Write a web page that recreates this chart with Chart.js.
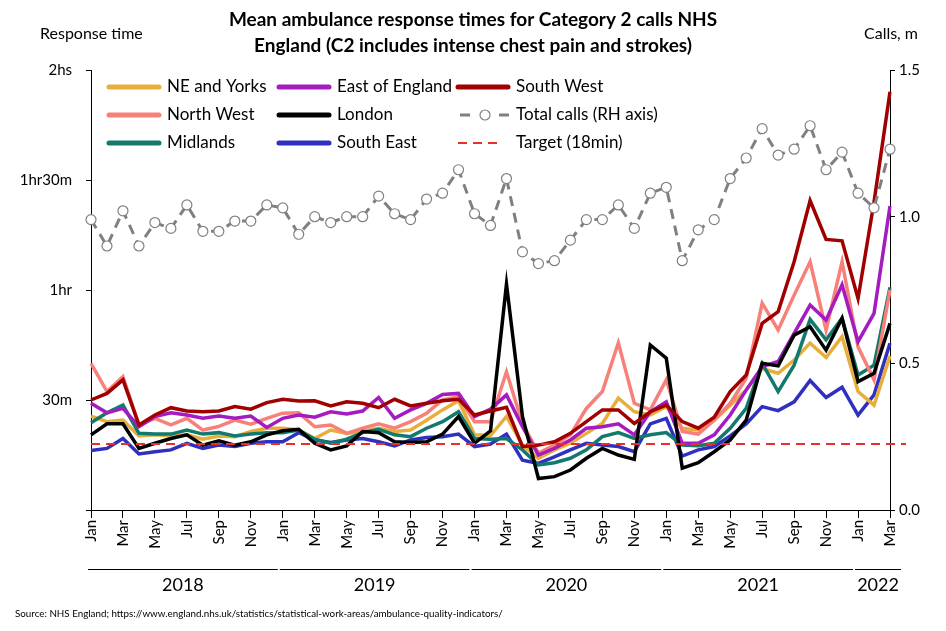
<!DOCTYPE html>
<html>
<head>
<meta charset="utf-8">
<script src="https://cdn.jsdelivr.net/npm/chart.js@4.4.1/dist/chart.umd.min.js"></script>
<style>
  html, body { margin: 0; padding: 0; background: #fff; }
</style>
</head>
<body>
<canvas id="chart" width="946" height="631"></canvas>
<script>
// month categories, Jan 2018 - Mar 2022
const monthNames = ['Jan','Feb','Mar','Apr','May','Jun','Jul','Aug','Sep','Oct','Nov','Dec'];
const years = ['2018','2019','2020','2021','2022'];
const monthsInYear = [12, 12, 12, 12, 3];

// mean C2 response time, minutes
const neYorks = [25.6,24.1,24.5,20.2,20.5,20.2,20.5,19.3,20.2,20.0,21.4,22.3,22.3,21.8,19.5,21.8,20.9,21.4,22.3,21.4,21.8,24.5,27.3,29.8,20.5,20.3,
  25.5,17.7,14.1,16.4,18.2,20.9,23.6,30.5,26.8,25.9,28.2,22.3,21.8,24.5,28.6,32.7,38.6,37.3,40.9,45.5,41.6,47.3,32.3,28.6,42.0];
const northWest = [40.0,32.3,36.4,23.2,25.0,23.2,25.0,21.8,22.8,24.5,23.4,25.0,26.4,26.5,22.7,23.2,20.9,22.3,23.5,22.3,24.1,26.4,30.0,30.9,24.1,24.1,
  37.7,23.6,15.5,17.7,20.5,27.7,32.3,45.6,29.1,27.3,35.5,21.4,20.7,24.5,29.1,35.9,56.4,49.1,58.6,67.7,49.1,67.7,44.5,35.5,60.0];
const midlands = [23.8,26.5,28.6,20.9,20.7,20.7,21.8,20.7,21.1,20.2,20.7,21.1,21.1,21.8,19.3,18.2,19.3,21.1,22.0,20.5,20.0,22.3,24.1,26.8,19.5,19.3,
  19.5,16.4,12.3,12.9,14.1,16.4,20.0,21.1,19.5,20.5,21.1,17.7,17.5,18.2,22.3,27.7,40.0,32.3,39.5,52.0,46.4,52.3,36.8,39.5,60.7];
const eastEngland = [29.1,26.5,27.7,22.7,25.5,26.5,25.9,25.0,25.6,25.0,25.6,22.5,25.0,25.9,25.3,26.8,26.2,27.0,30.7,25.0,27.3,29.1,31.5,31.8,25.5,27.5,
  31.4,22.7,15.0,16.8,19.1,22.3,22.7,23.5,20.5,26.8,29.5,18.2,18.2,20.5,25.9,32.7,39.1,40.5,48.2,55.9,51.8,61.4,45.9,53.6,82.9];
const london = [20.5,23.5,23.5,16.8,18.2,19.5,20.5,17.7,18.9,17.7,18.6,20.5,21.6,22.0,18.2,16.4,17.5,21.4,21.1,18.6,18.4,18.6,20.7,25.5,18.2,21.6,
  61.6,25.5,8.6,9.1,10.9,14.1,16.8,15.0,13.8,45.0,41.4,11.4,12.9,15.9,19.1,24.5,40.0,39.3,47.7,50.0,43.6,52.3,35.0,37.3,50.9];
const southEast = [16.2,16.8,19.5,15.3,15.9,16.4,18.2,16.8,17.7,17.3,18.2,18.6,18.6,21.1,19.1,18.4,19.1,19.5,18.6,17.5,19.1,19.8,20.0,20.7,17.3,18.0,
  20.7,13.6,12.7,14.5,16.4,18.2,17.7,17.3,15.9,23.5,25.0,14.7,16.4,17.3,20.2,23.5,28.2,27.1,29.5,35.3,30.7,33.5,25.9,31.4,45.5];
const southWest = [30.0,31.8,35.5,23.2,25.9,27.9,27.0,26.8,27.0,28.2,27.5,29.3,30.2,29.7,29.8,28.4,29.5,29.1,27.9,30.2,28.4,29.1,29.8,30.2,25.9,27.0,
  28.0,17.3,17.7,18.6,20.9,24.1,27.3,27.3,23.6,26.8,28.6,24.1,22.3,25.3,32.3,36.8,50.9,54.1,67.7,84.4,73.8,73.4,57.7,84.0,114.1];

// total calls, millions (right axis)
const totalCalls = [0.99,0.90,1.02,0.90,0.98,0.96,1.04,0.95,0.95,0.985,0.985,1.04,1.03,0.94,1.00,0.98,1.00,1.00,1.07,1.01,0.99,1.06,1.08,1.16,1.01,0.97,
  1.13,0.88,0.84,0.85,0.92,0.99,0.99,1.04,0.96,1.08,1.10,0.85,0.955,0.99,1.13,1.20,1.30,1.21,1.23,1.31,1.16,1.22,1.08,1.03,1.23];

const targetMinutes = 18;
const leftTickLabels = ['', '30m', '1hr', '1hr30m', '2hs'];

const months = [];
years.forEach((y, k) => {
  for (let m = 0; m < monthsInYear[k]; m++) months.push(monthNames[m] + ' ' + y);
});

const FONT = 'Lato, "Open Sans", sans-serif';

const regions = [
  { label: 'NE and Yorks', data: neYorks, color: '#E8AE3C', order: 6 },
  { label: 'North West', data: northWest, color: '#F8807A', order: 4 },
  { label: 'Midlands', data: midlands, color: '#127A6C', order: 5 },
  { label: 'East of England', data: eastEngland, color: '#A41CC0', order: 3 },
  { label: 'London', data: london, color: '#000000', order: 2 },
  { label: 'South East', data: southEast, color: '#3030BE', order: 7 },
  { label: 'South West', data: southWest, color: '#A00000', order: 1 }
];

const datasets = regions.map(r => ({
  label: r.label,
  data: r.data,
  borderColor: r.color,
  backgroundColor: r.color,
  borderWidth: 3.5,
  pointRadius: 0,
  tension: 0,
  order: r.order,
  yAxisID: 'y'
}));

datasets.push({
  label: 'Total calls (RH axis)',
  data: totalCalls,
  borderColor: '#808080',
  backgroundColor: '#808080',
  borderWidth: 3,
  borderDash: [10, 7],
  pointRadius: 5,
  pointBackgroundColor: '#ffffff',
  pointBorderColor: '#808080',
  pointBorderWidth: 1.2,
  tension: 0,
  order: 0,
  yAxisID: 'y2'
});

// legend drawn as a 3x3 grid like the original
const legendCols = [109, 279, 458];
const legendRows = [87, 115, 143];
const legendItems = [
  { text: 'NE and Yorks', col: 0, row: 0, color: '#E8AE3C' },
  { text: 'North West', col: 0, row: 1, color: '#F8807A' },
  { text: 'Midlands', col: 0, row: 2, color: '#127A6C' },
  { text: 'East of England', col: 1, row: 0, color: '#A41CC0' },
  { text: 'London', col: 1, row: 1, color: '#000000' },
  { text: 'South East', col: 1, row: 2, color: '#3030BE' },
  { text: 'South West', col: 2, row: 0, color: '#A00000' },
  { text: 'Total calls (RH axis)', col: 2, row: 1, type: 'calls' },
  { text: 'Target (18min)', col: 2, row: 2, type: 'target' }
];

const decorations = {
  id: 'decorations',
  afterDatasetsDraw(chart) {
    const ctx = chart.ctx;
    const y = chart.scales.y.getPixelForValue(targetMinutes);
    ctx.save();
    ctx.strokeStyle = '#E8302A';
    ctx.lineWidth = 2;
    ctx.setLineDash([9, 6]);
    ctx.beginPath();
    ctx.moveTo(chart.chartArea.left, y);
    ctx.lineTo(chart.chartArea.right + 16, y);
    ctx.stroke();
    ctx.restore();
  },
  afterDraw(chart) {
    const ctx = chart.ctx;
    const x = chart.scales.x;
    ctx.save();
    ctx.fillStyle = '#000';
    ctx.textBaseline = 'middle';

    // title
    ctx.textAlign = 'center';
    ctx.font = 'bold 19px ' + FONT;
    ctx.fillText('Mean ambulance response times for Category 2 calls NHS', 473, 20);
    ctx.fillText('England (C2 includes intense chest pain and strokes)', 473, 46);

    // axis captions
    ctx.font = '16px ' + FONT;
    ctx.textAlign = 'left';
    ctx.fillText('Response time', 40, 34);
    ctx.textAlign = 'right';
    ctx.fillText('Calls, m', 918, 34);

    // legend
    ctx.font = '17px ' + FONT;
    ctx.textAlign = 'left';
    legendItems.forEach(it => {
      const lx = legendCols[it.col];
      const ly = legendRows[it.row];
      ctx.lineCap = 'round';
      if (it.type === 'calls') {
        ctx.strokeStyle = '#808080';
        ctx.lineWidth = 3;
        ctx.lineCap = 'butt';
        ctx.beginPath();
        ctx.moveTo(460, ly); ctx.lineTo(470, ly);
        ctx.moveTo(499, ly); ctx.lineTo(509, ly);
        ctx.stroke();
        ctx.fillStyle = '#fff';
        ctx.lineWidth = 1.2;
        ctx.beginPath();
        ctx.arc(485, ly, 5, 0, Math.PI * 2);
        ctx.fill();
        ctx.stroke();
      } else if (it.type === 'target') {
        ctx.strokeStyle = '#E8302A';
        ctx.lineWidth = 2;
        ctx.lineCap = 'butt';
        ctx.setLineDash([9, 6]);
        ctx.beginPath();
        ctx.moveTo(lx, ly); ctx.lineTo(lx + 42, ly);
        ctx.stroke();
        ctx.setLineDash([]);
      } else {
        ctx.strokeStyle = it.color;
        ctx.lineWidth = 5;
        ctx.beginPath();
        ctx.moveTo(lx, ly); ctx.lineTo(lx + 50, ly);
        ctx.stroke();
      }
      ctx.fillStyle = '#000';
      ctx.fillText(it.text, lx + 58, ly);
    });

    // year groups under the month ticks
    const step = x.getPixelForValue(1) - x.getPixelForValue(0);
    let first = 0;
    ctx.strokeStyle = '#000';
    ctx.lineWidth = 1;
    ctx.lineCap = 'butt';
    ctx.font = '18px ' + FONT;
    ctx.textAlign = 'center';
    years.forEach((yr, k) => {
      const x0 = x.getPixelForValue(first) - 3;
      const x1 = x.getPixelForValue(first) + monthsInYear[k] * step - 5;
      ctx.beginPath();
      ctx.moveTo(x0, 569.5); ctx.lineTo(x1, 569.5);
      ctx.stroke();
      ctx.fillText(yr, (x0 + x1) / 2, 585);
      first += monthsInYear[k];
    });

    // source
    ctx.font = '9.8px ' + FONT;
    ctx.textAlign = 'left';
    ctx.fillText('Source: NHS England; https://www.england.nhs.uk/statistics/statistical-work-areas/ambulance-quality-indicators/', 15, 614);
    ctx.restore();
  }
};

new Chart(document.getElementById('chart').getContext('2d'), {
  type: 'line',
  data: { labels: months, datasets: datasets },
  options: {
    responsive: false,
    devicePixelRatio: 1,
    animation: false,
    layout: { padding: { top: 70, left: 0, right: 0, bottom: 0 } },
    plugins: {
      legend: { display: false },
      title: { display: false },
      tooltip: { enabled: false }
    },
    scales: {
      x: {
        type: 'category',
        offset: false,
        afterBuildTicks: scale => { scale.ticks = scale.ticks.filter(t => t.value % 2 === 0); },
        afterFit: scale => { scale.height = 121; },
        grid: { display: true, drawOnChartArea: false, drawTicks: true, tickLength: 8, color: '#000' },
        border: { display: true, color: '#000', width: 1 },
        ticks: {
          autoSkip: false,
          minRotation: 90,
          maxRotation: 90,
          padding: 2,
          color: '#000',
          font: { family: FONT, size: 15 },
          callback: v => months[v].split(' ')[0]
        }
      },
      y: {
        position: 'left',
        min: 0,
        max: 120,
        afterFit: scale => { scale.width = 91; },
        grid: { display: true, drawOnChartArea: false, drawTicks: true, tickLength: 5, color: '#000' },
        border: { display: true, color: '#000', width: 1 },
        ticks: {
          stepSize: 30,
          padding: 14,
          color: '#000',
          font: { family: FONT, size: 15 },
          callback: v => leftTickLabels[v / 30]
        }
      },
      y2: {
        position: 'right',
        min: 0,
        max: 1.5,
        afterFit: scale => { scale.width = 56; },
        grid: { display: true, drawOnChartArea: false, drawTicks: true, tickLength: 5, color: '#000' },
        border: { display: true, color: '#000', width: 1 },
        ticks: {
          stepSize: 0.5,
          padding: 4,
          color: '#000',
          font: { family: FONT, size: 15 },
          callback: v => v.toFixed(1)
        }
      }
    }
  },
  plugins: [decorations]
});
</script>
</body>
</html>
